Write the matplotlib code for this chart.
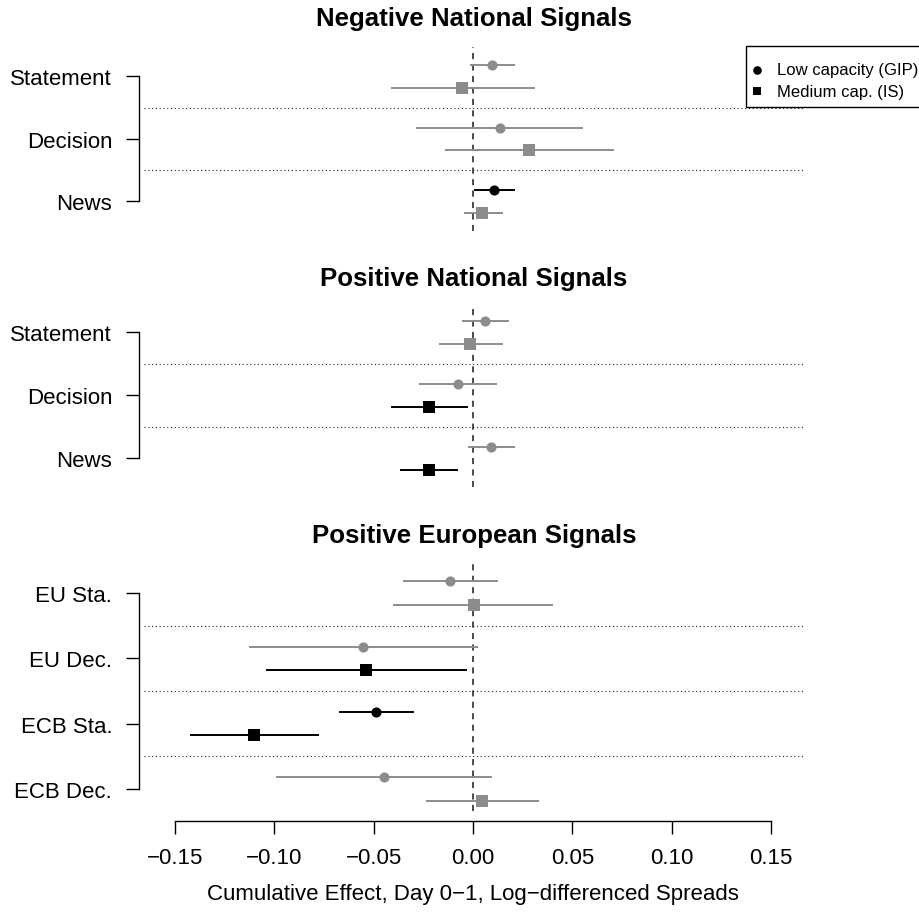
import matplotlib
matplotlib.use("Agg")
import matplotlib.pyplot as plt
from matplotlib.patches import Rectangle

plt.rcParams['font.family'] = ['Liberation Sans', 'DejaVu Sans']

# -------- data --------
titles = ['Negative National Signals', 'Positive National Signals', 'Positive European Signals']

neg_labels = ['Statement', 'Decision', 'News']
neg_gip_est = [0.0098, 0.0136, 0.0106]
neg_gip_lo = [-0.0012, -0.0283, 0.0010]
neg_gip_hi = [0.0207, 0.0549, 0.0204]
neg_is_est = [-0.0053, 0.0284, 0.0047]
neg_is_lo = [-0.0407, -0.0138, -0.0041]
neg_is_hi = [0.0307, 0.0706, 0.0148]

pos_labels = ['Statement', 'Decision', 'News']
pos_gip_est = [0.0062, -0.0073, 0.0092]
pos_gip_lo = [-0.0050, -0.0265, -0.0020]
pos_gip_hi = [0.0174, 0.0118, 0.0207]
pos_is_est = [-0.0014, -0.0221, -0.0221]
pos_is_lo = [-0.0168, -0.0410, -0.0362]
pos_is_hi = [0.0145, -0.0029, -0.0079]

eu_labels = ['EU Sta.', 'EU Dec.', 'ECB Sta.', 'ECB Dec.']
eu_gip_est = [-0.0115, -0.0555, -0.0487, -0.0448]
eu_gip_lo = [-0.0348, -0.1121, -0.0667, -0.0988]
eu_gip_hi = [0.0121, 0.0018, -0.0304, 0.0092]
eu_is_est = [0.0003, -0.0537, -0.1100, 0.0047]
eu_is_lo = [-0.0398, -0.1038, -0.1419, -0.0230]
eu_is_hi = [0.0400, -0.0036, -0.0782, 0.0328]

x_ticks = [-0.15, -0.10, -0.05, 0.00, 0.05, 0.10, 0.15]
x_label = 'Cumulative Effect, Day 0\u22121, Log\u2212differenced Spreads'
legend_labels = ['Low capacity (GIP)', 'Medium cap. (IS)']

panels = [
    (neg_labels, neg_gip_est, neg_gip_lo, neg_gip_hi, neg_is_est, neg_is_lo, neg_is_hi),
    (pos_labels, pos_gip_est, pos_gip_lo, pos_gip_hi, pos_is_est, pos_is_lo, pos_is_hi),
    (eu_labels, eu_gip_est, eu_gip_lo, eu_gip_hi, eu_is_est, eu_is_lo, eu_is_hi),
]

# -------- layout (pixels) --------
W, H = 919, 920
GRAY = '#8c8c8c'
BASE = 16
x_left, x_right = 144, 804
zero_px, per_unit = 473, (771 - 175) / 0.3
xlim = ((x_left - zero_px) / per_unit, (x_right - zero_px) / per_unit)
# (axes top, axes bottom, top tick, bottom tick, title y)
panel_px = [(48, 232, 77.3, 202.3, 19),
            (306, 488, 333.3, 459.3, 279),
            (562, 812, 594.0, 790.0, 536)]
offset = 0.18

fig = plt.figure(figsize=(W / 100, H / 100), dpi=100)

for i, (labels, g_est, g_lo, g_hi, s_est, s_lo, s_hi) in enumerate(panels):
    top, bot, t_top, t_bot, title_y = panel_px[i]
    n = len(labels)
    ax = fig.add_axes([x_left / W, 1 - bot / H, (x_right - x_left) / W, (bot - top) / H])
    unit = (t_bot - t_top) / (n - 1)
    ax.set_ylim(1 - (bot - t_bot) / unit, n + (t_top - top) / unit)
    ax.set_xlim(*xlim)
    ypos = list(range(n, 0, -1))

    for k in range(1, n):
        ax.axhline(k + 0.5, color='#222222', lw=0.8, ls=(0, (1, 2.4)), zorder=1)
    ax.axvline(0, color='#1a1a1a', lw=1.1, ls=(0, (4, 3.5)), zorder=2)

    for y, e, lo, hi in zip(ypos, g_est, g_lo, g_hi):
        c = 'black' if (lo > 0 or hi < 0) else GRAY
        ax.plot([lo, hi], [y + offset] * 2, color=c, lw=1.4, zorder=3)
        ax.plot(e, y + offset, 'o', color=c, ms=7.3, mew=0, zorder=4)
    for y, e, lo, hi in zip(ypos, s_est, s_lo, s_hi):
        c = 'black' if (lo > 0 or hi < 0) else GRAY
        ax.plot([lo, hi], [y - offset] * 2, color=c, lw=1.4, zorder=3)
        ax.plot(e, y - offset, 's', color=c, ms=8.3, mew=0, zorder=4)

    for sp in ['top', 'right']:
        ax.spines[sp].set_visible(False)
    ax.spines['left'].set_position(('outward', 3.5))
    ax.spines['left'].set_bounds(1, n)
    ax.spines['left'].set_linewidth(1.0)
    ax.set_yticks(ypos, labels)
    ax.tick_params(axis='y', length=9.4, width=1.0, pad=10, labelsize=BASE)

    if i == 2:
        ax.spines['bottom'].set_position(('outward', 7.2))
        ax.spines['bottom'].set_bounds(x_ticks[0], x_ticks[-1])
        ax.spines['bottom'].set_linewidth(1.0)
        ax.set_xticks(x_ticks, [f'{v:.2f}'.replace('-', '\u2212') for v in x_ticks])
        ax.tick_params(axis='x', length=9.4, width=1.0, pad=9, labelsize=BASE)
    else:
        ax.spines['bottom'].set_visible(False)
        ax.set_xticks([])

    fig.text(474 / W, 1 - title_y / H, titles[i], fontsize=18.6,
             fontweight='bold', ha='center', va='center')

fig.text(473 / W, 1 - 895 / H, x_label, fontsize=BASE, ha='center', va='center')

# -------- legend box (top right, partly cut off) --------
ov = fig.add_axes([0, 0, 1, 1], zorder=10)
ov.set_xlim(0, W)
ov.set_ylim(H, 0)
ov.axis('off')
ov.patch.set_alpha(0)
ov.add_patch(Rectangle((745.7, 47.3), 200, 60.4, facecolor='white',
                       edgecolor='black', lw=1.0, clip_on=False))
ov.plot(756.7, 70.7, 'o', color='black', ms=6.2, mew=0)
ov.plot(756.7, 92.3, 's', color='black', ms=6.4, mew=0)
ov.text(777, 70.7, legend_labels[0], fontsize=12, va='center', ha='left')
ov.text(777, 92.3, legend_labels[1], fontsize=12, va='center', ha='left')

fig.savefig('out.png', dpi=100)
